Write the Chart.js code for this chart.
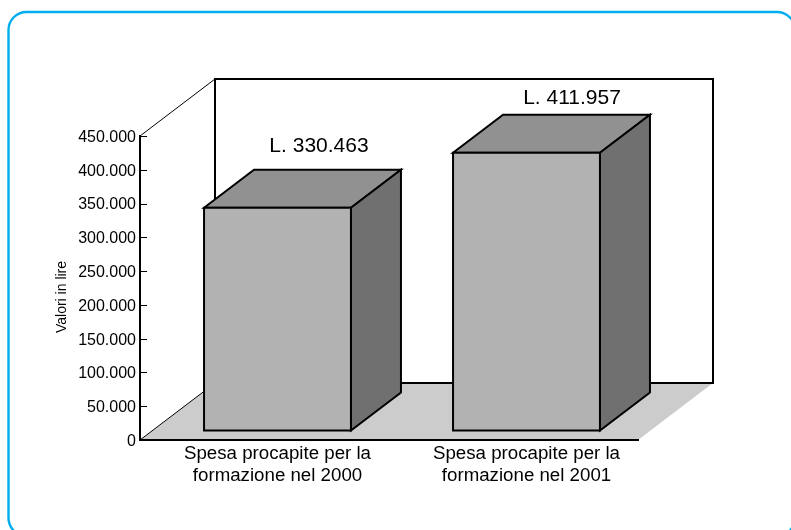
<!DOCTYPE html>
<html>
<head>
<meta charset="utf-8">
<style>html,body{margin:0;padding:0;background:#fff}canvas{display:block}</style>
<script src="https://cdn.jsdelivr.net/npm/chart.js@4"></script>
</head>
<body>
<canvas id="c" width="791" height="530"></canvas>
<script>
const categories = [['Spesa procapite per la','formazione nel 2000'],['Spesa procapite per la','formazione nel 2001']];
const values = [330463, 411957];
const valueLabels = ['L. 330.463', 'L. 411.957'];
const yTickLabels = ['0','50.000','100.000','150.000','200.000','250.000','300.000','350.000','400.000','450.000'];
const yAxisTitle = 'Valori in lire';

const FONT = '"Liberation Sans", Arial, sans-serif';
const WALL = {dx:75, dy:-57};
const BAR_SHIFT = {dx:13, dy:-9};
const BAR_DEPTH = {dx:50, dy:-38};
const LABEL_SHIFT = [{dx:41.5,dy:-62},{dx:45.5,dy:-54.5}];

function poly(ctx, pts, fill, stroke, w){
  ctx.beginPath();
  pts.forEach((p,i)=> i?ctx.lineTo(p[0],p[1]):ctx.moveTo(p[0],p[1]));
  ctx.closePath();
  if(fill){ctx.fillStyle=fill;ctx.fill();}
  if(stroke){ctx.strokeStyle=stroke;ctx.lineWidth=w;ctx.stroke();}
}

const scene = {
  id:'scene',
  beforeDraw(chart){
    const {ctx, chartArea:a} = chart;
    ctx.save();
    ctx.beginPath();
    ctx.roundRect(8.5,12,786.5,524,18);
    ctx.strokeStyle='#00aeef';ctx.lineWidth=2.4;ctx.stroke();
    poly(ctx,[[a.left,a.bottom],[a.left+WALL.dx,a.bottom+WALL.dy],[a.right+WALL.dx,a.bottom+WALL.dy],[a.right,a.bottom]],'#cccccc');
    ctx.lineJoin='miter';
    poly(ctx,[[a.left+WALL.dx,a.top+WALL.dy],[a.right+WALL.dx,a.top+WALL.dy],[a.right+WALL.dx,a.bottom+WALL.dy],[a.left+WALL.dx,a.bottom+WALL.dy]],'#ffffff','#000',2);
    ctx.strokeStyle='#000';ctx.lineWidth=1;
    ctx.beginPath();
    ctx.moveTo(a.left,a.top);ctx.lineTo(a.left+WALL.dx,a.top+WALL.dy);
    ctx.moveTo(a.left,a.bottom);ctx.lineTo(a.left+WALL.dx,a.bottom+WALL.dy);
    ctx.stroke();
    ctx.restore();
  },
  beforeDatasetsDraw(chart){
    const ctx=chart.ctx, ys=chart.scales.y, a=chart.chartArea;
    // inward tick marks on the value axis
    ctx.save();
    ctx.strokeStyle='#000';ctx.lineWidth=1;
    ctx.beginPath();
    ys.ticks.forEach(t=>{
      const py=Math.round(ys.getPixelForValue(t.value))+0.5;
      ctx.moveTo(a.left,py);ctx.lineTo(a.left+7,py);
    });
    ctx.stroke();
    ctx.restore();
    ctx.save();
    ctx.translate(BAR_SHIFT.dx,BAR_SHIFT.dy);
    chart.getDatasetMeta(0).data.forEach(b=>{
      const l=b.x-b.width/2,r=b.x+b.width/2,t=b.y,bt=b.base,d=BAR_DEPTH;
      ctx.lineJoin='miter';
      poly(ctx,[[l,t],[l+d.dx,t+d.dy],[r+d.dx,t+d.dy],[r,t]],'#919191','#000',2);
      poly(ctx,[[r,t],[r+d.dx,t+d.dy],[r+d.dx,bt+d.dy],[r,bt]],'#707070','#000',2);
    });
  },
  afterDatasetsDraw(chart){
    const ctx=chart.ctx;
    chart.getDatasetMeta(0).data.forEach(b=>{
      const l=b.x-b.width/2,r=b.x+b.width/2;
      poly(ctx,[[l,b.y],[r,b.y],[r,b.base],[l,b.base]],null,'#000',2);
    });
    ctx.restore();
    ctx.save();
    ctx.fillStyle='#000';ctx.textAlign='center';ctx.textBaseline='middle';
    ctx.font='21px '+FONT;
    chart.getDatasetMeta(0).data.forEach((b,i)=>{
      ctx.fillText(valueLabels[i],b.x+BAR_SHIFT.dx+LABEL_SHIFT[i].dx,b.y+BAR_SHIFT.dy+LABEL_SHIFT[i].dy);
    });
    ctx.font='14px '+FONT;
    ctx.translate(62,297);ctx.rotate(-Math.PI/2);
    ctx.fillText(yAxisTitle,0,0);
    ctx.restore();
  }
};

new Chart(document.getElementById('c'),{
  type:'bar',
  data:{labels:categories,datasets:[{
    data:values,backgroundColor:'#b2b2b2',borderWidth:0,
    categoryPercentage:0.59,barPercentage:1,clip:false
  }]},
  plugins:[scene],
  options:{
    responsive:false,animation:false,
    layout:{padding:{left:0,top:136,right:153,bottom:0}},
    plugins:{legend:{display:false},tooltip:{enabled:false},title:{display:false}},
    scales:{
      x:{
        afterFit(s){s.height=90;},
        grid:{display:true,drawOnChartArea:false,drawTicks:false},
        border:{display:true,color:'#000',width:2},
        ticks:{color:'#000',font:{family:FONT,size:18.7,lineHeight:1.17},labelOffset:13,padding:3,maxRotation:0,autoSkip:false}
      },
      y:{
        min:0,max:450000,
        afterFit(s){s.width=140;},
        grid:{display:true,drawOnChartArea:false,drawTicks:false},
        border:{display:true,color:'#000',width:2},
        ticks:{color:'#000',font:{family:FONT,size:16},stepSize:50000,padding:4,labelOffset:1.5,
          callback(v){return yTickLabels[Math.round(v/50000)];}}
      }
    }
  }
});
</script>
</body>
</html>
